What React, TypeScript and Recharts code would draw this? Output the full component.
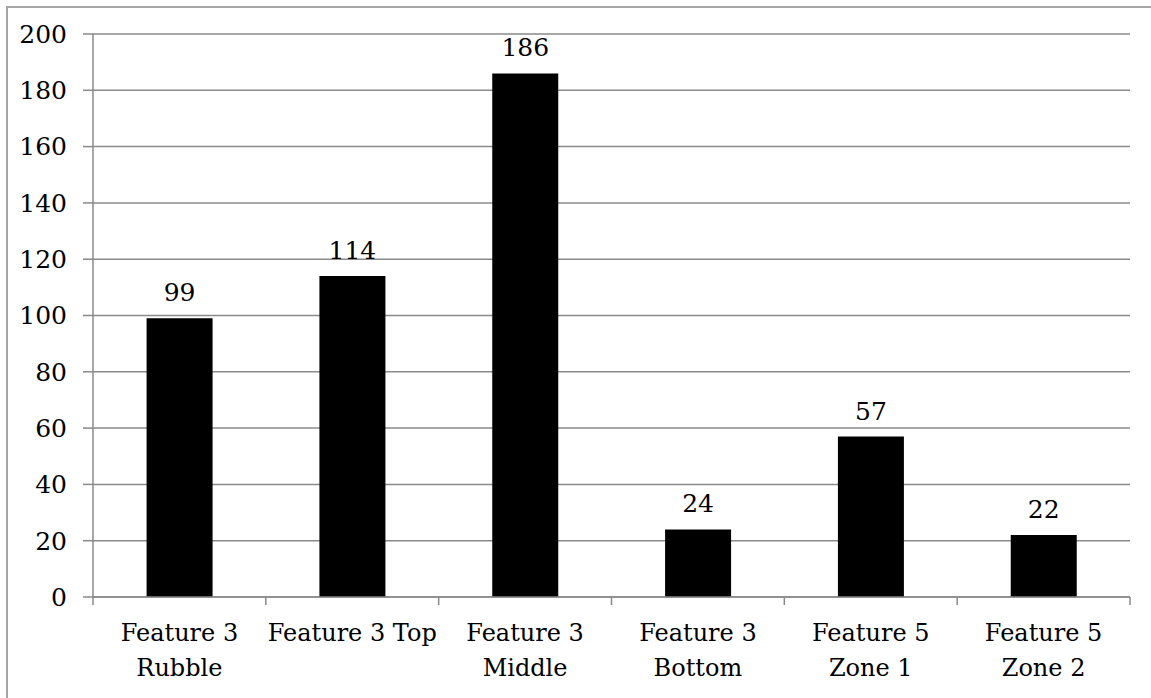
import React from 'react'
import {
    BarChart,
    Bar,
    XAxis,
    YAxis,
    CartesianGrid,
    LabelList,
} from "recharts"

const categories = [
    "Feature 3\nRubble",
    "Feature 3 Top",
    "Feature 3\nMiddle",
    "Feature 3\nBottom",
    "Feature 5\nZone 1",
    "Feature 5\nZone 2",
]
const counts = [99, 114, 186, 24, 57, 22]
const yTicks = [0, 20, 40, 60, 80, 100, 120, 140, 160, 180, 200]

const FONT = "'DejaVu Serif', 'Liberation Serif', serif"
const GRAY = "#8a8a8a"

const CategoryTick = (props: any) => {
    const { x, y, payload, index, visibleTicksCount } = props
    const half = payload.offset ?? 86
    const lines = String(payload.value).split("\n")
    return (
        <g>
            <line x1={x - half} x2={x - half} y1={y} y2={y + 8} stroke={GRAY} strokeWidth={1.5} />
            {index === visibleTicksCount - 1 && (
                <line x1={x + half} x2={x + half} y1={y} y2={y + 8} stroke={GRAY} strokeWidth={1.5} />
            )}
            <text x={x} y={y} textAnchor="middle" style={{ fontSize: 24, fontFamily: FONT }} fill="#000">
                {lines.map((line, i) => (
                    <tspan key={i} x={x} dy={i === 0 ? 44 : 35}>{line}</tspan>
                ))}
            </text>
        </g>
    )
}

const App: React.FC = () => {
    const chartData = categories.map((name, i) => ({ name, count: counts[i] }))
    return (
        <div style={{ position: "absolute", left: 0, top: 0, width: 1151, height: 698, background: "#fff", overflow: "hidden", fontFamily: FONT }}>
            <div style={{
                position: "absolute", left: 6, top: 6, width: 1200, height: 760,
                borderTop: "2px solid #a6a6a6", borderLeft: "2px solid #a6a6a6",
            }} />
            <div style={{ position: "absolute", left: 0, top: 0 }}>
                <BarChart
                    width={1151}
                    height={698}
                    data={chartData}
                    margin={{ top: 34, right: 21, bottom: 0, left: 0 }}
                    barCategoryGap="31%"
                    style={{ fontFamily: FONT }}
                >
                    <CartesianGrid vertical={false} stroke={GRAY} strokeWidth={1.5} />
                    <XAxis
                        dataKey="name"
                        interval={0}
                        height={101}
                        tickLine={false}
                        tickSize={0}
                        tickMargin={0}
                        axisLine={{ stroke: GRAY, strokeWidth: 1.5 }}
                        tick={<CategoryTick />}
                    />
                    <YAxis
                        width={93}
                        domain={[0, 200]}
                        ticks={yTicks}
                        interval={0}
                        tickSize={10}
                        tickMargin={16}
                        axisLine={{ stroke: GRAY, strokeWidth: 1.5 }}
                        tickLine={{ stroke: GRAY, strokeWidth: 1.5 }}
                        tick={{ fontSize: 25, fill: "#000", style: { fontFamily: FONT } }}
                    />
                    <Bar dataKey="count" fill="#000" isAnimationActive={false}>
                        <LabelList
                            dataKey="count"
                            position="top"
                            offset={17}
                            style={{ fontSize: 25, fontFamily: FONT, fill: "#000" }}
                        />
                    </Bar>
                </BarChart>
            </div>
        </div>
    )
}

export default App
